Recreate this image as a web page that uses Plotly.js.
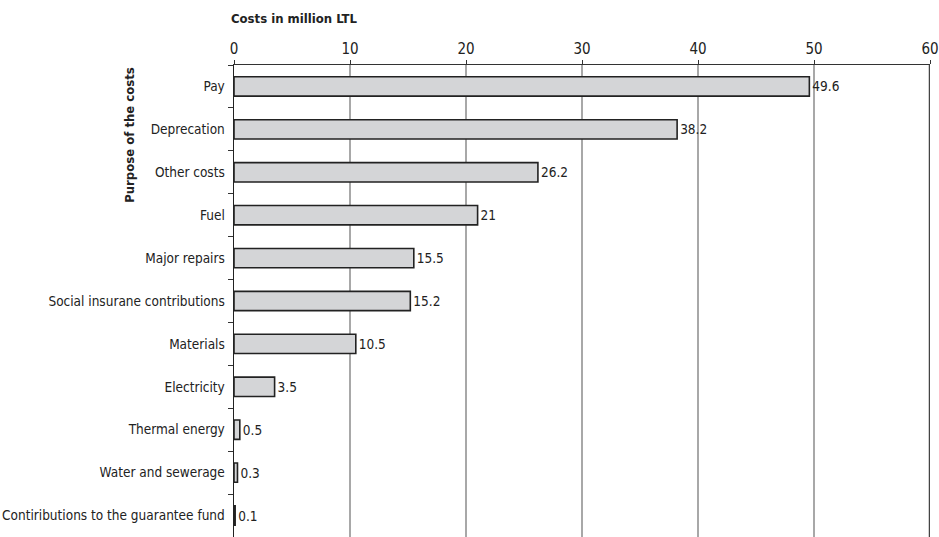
<!DOCTYPE html>
<html>
<head>
<meta charset="utf-8">
<script src="https://cdn.plot.ly/plotly-3.0.1.min.js"></script>
<style>html,body{margin:0;padding:0;background:#fff;}#chart{width:939px;height:537px;}</style>
</head>
<body>
<div id="chart"></div>
<script>
const categories = [
  "Pay",
  "Deprecation",
  "Other costs",
  "Fuel",
  "Major repairs",
  "Social insurane contributions",
  "Materials",
  "Electricity",
  "Thermal energy",
  "Water and sewerage",
  "Contiributions to the guarantee fund"
];
const costs = [49.6, 38.2, 26.2, 21, 15.5, 15.2, 10.5, 3.5, 0.5, 0.3, 0.1];
const costLabels = ["49.6", "38.2", "26.2", "21", "15.5", "15.2", "10.5", "3.5", "0.5", "0.3", "0.1"];
const xTickVals = [0, 10, 20, 30, 40, 50, 60];

const FONT = "DejaVu Sans Condensed, Liberation Sans Narrow, sans-serif";

const trace = {
  type: "bar",
  orientation: "h",
  y: categories,
  x: costs,
  text: costLabels,
  textposition: "outside",
  cliponaxis: false,
  textfont: {family: FONT, size: 13.5, color: "#222"},
  marker: {color: "#d4d5d7", line: {color: "#222", width: 1.6}},
  hoverinfo: "none"
};

const layout = {
  width: 939,
  height: 537,
  margin: {l: 234, r: 9, t: 65, b: 0},
  paper_bgcolor: "#fff",
  plot_bgcolor: "#fff",
  bargap: 0.55,
  showlegend: false,
  font: {family: FONT, size: 13.5, color: "#222"},
  xaxis: {
    side: "top",
    range: [0, 60],
    tickvals: xTickVals,
    ticktext: xTickVals.map(String),
    ticklabeloverflow: "allow",
    showgrid: true,
    gridcolor: "#a8a8a8",
    gridwidth: 1.5,
    zeroline: false,
    showline: true,
    linecolor: "#333",
    linewidth: 1.5,
    ticks: "outside",
    ticklen: 4,
    tickcolor: "#333",
    tickfont: {family: FONT, size: 15, color: "#222"},
    fixedrange: true
  },
  yaxis: {
    autorange: "reversed",
    showgrid: false,
    zeroline: false,
    showline: true,
    linecolor: "#222",
    linewidth: 1.5,
    ticks: "outside",
    tickson: "boundaries",
    ticklen: 5,
    tickcolor: "#333",
    ticklabelstandoff: 5,
    tickfont: {family: FONT, size: 13.5, color: "#222"},
    fixedrange: true
  },
  shapes: [{
    type: "line", xref: "x", yref: "paper",
    x0: 60, x1: 60, y0: 0, y1: 1,
    line: {color: "#444", width: 2.5}
  }],
  annotations: [
    {
      text: "<b>Costs in million LTL</b>",
      xref: "paper", yref: "paper",
      x: 0, y: 1, xanchor: "left", yanchor: "middle",
      xshift: -5, yshift: 47,
      showarrow: false,
      font: {family: FONT, size: 13, color: "#222"}
    },
    {
      text: "<b>Purpose of the costs</b>",
      xref: "paper", yref: "paper",
      x: 0, y: 0.852, xanchor: "center", yanchor: "middle",
      xshift: -104,
      textangle: -90,
      showarrow: false,
      font: {family: FONT, size: 13, color: "#222"}
    }
  ]
};

Plotly.newPlot("chart", [trace], layout, {displayModeBar: false, staticPlot: true});
</script>
</body>
</html>
